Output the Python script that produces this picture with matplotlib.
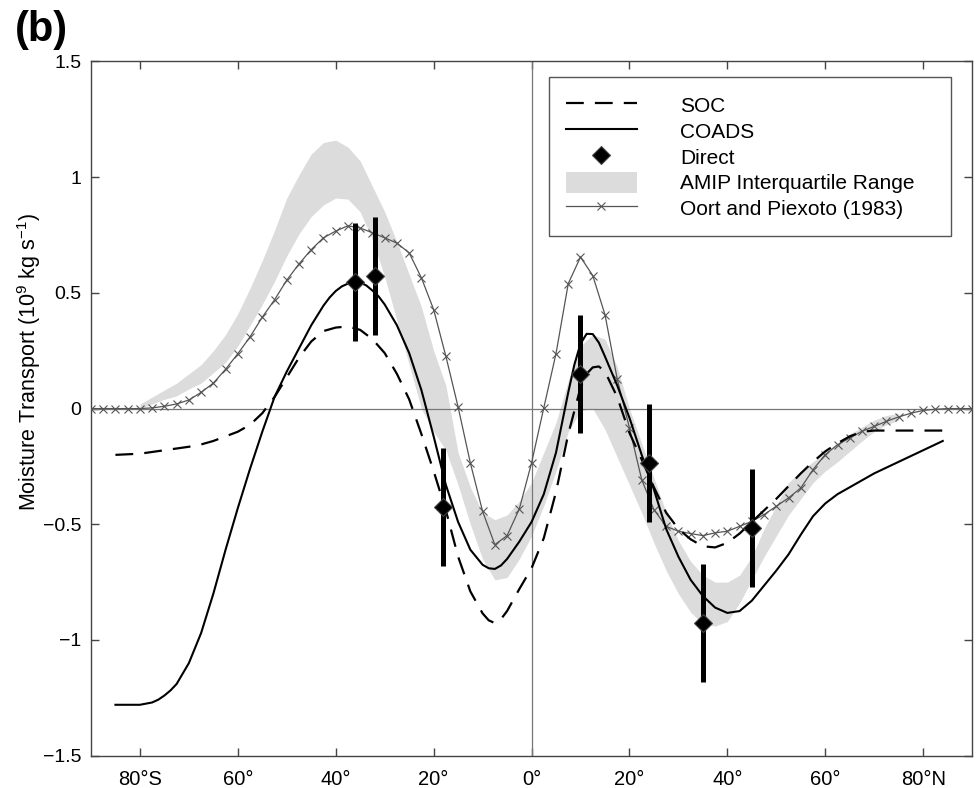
import numpy as np
import matplotlib
matplotlib.use("Agg")
import matplotlib.pyplot as plt
from matplotlib.lines import Line2D
from matplotlib.patches import Patch

plt.rcParams['font.family'] = ['Liberation Sans', 'DejaVu Sans']
plt.rcParams['mathtext.fontset'] = 'custom'
plt.rcParams['mathtext.rm'] = 'Liberation Sans'
plt.rcParams['mathtext.it'] = 'Liberation Sans:italic'

# COADS (solid)
coads_lat = [-85, -80, -77.5, -76.25, -75, -73.75, -72.5, -70, -67.5, -65, -62.5, -60, -57.5, -55, -52.5,
             -50, -47.5, -45, -42.5, -41.25, -40, -38.75, -37.5, -36.25, -35, -33.75, -32.5, -31.25,
             -30, -27.5, -25, -22.5, -20, -17.5, -15, -12.5, -10, -8.75, -7.5, -6.25, -5, -2.5, 0,
             2.5, 5, 7.5, 8.75, 10, 11.25, 12.5, 13.75, 15, 17.5,
             20, 22.5, 25, 27.5, 30, 32.5, 35, 37.5, 40, 42.5, 45, 47.5, 50, 52.5, 55,
             57.5, 60, 62.5, 65, 67.5, 70, 72.5, 75, 77.5, 80, 82.5, 84]
coads_val = [-1.28, -1.28, -1.27, -1.258, -1.24, -1.218, -1.19, -1.10, -0.97, -0.80, -0.61, -0.43, -0.26, -0.10, 0.05,
             0.16, 0.26, 0.36, 0.445, 0.48, 0.508, 0.528, 0.54, 0.547, 0.545, 0.532, 0.51, 0.485,
             0.45, 0.36, 0.24, 0.08, -0.12, -0.33, -0.49, -0.61, -0.675, -0.69, -0.693, -0.678, -0.65, -0.575, -0.49,
             -0.37, -0.19, 0.07, 0.19, 0.28, 0.323, 0.322, 0.285, 0.225, 0.10,
             -0.04, -0.20, -0.35, -0.52, -0.64, -0.74, -0.81, -0.86, -0.883, -0.875, -0.83, -0.765, -0.70, -0.63, -0.545,
             -0.465, -0.41, -0.37, -0.34, -0.31, -0.28, -0.255, -0.23, -0.205, -0.18, -0.155, -0.14]

# SOC (dashed)
soc_lat = [-85, -80, -75, -70, -67.5, -65, -62.5, -60, -57.5, -55, -52.5, -50, -47.5, -45,
           -42.5, -40, -37.5, -35, -32.5, -30, -27.5, -25, -22.5, -20, -17.5, -15, -12.5,
           -10, -8.75, -7.5, -6.25, -5, -2.5, 0, 2.5, 5, 7.5, 10, 11.25, 12.5, 13.75, 15, 17.5, 20,
           22.5, 25, 27.5, 30, 32.5, 35, 37.5, 40, 42.5, 45, 47.5, 50, 52.5, 55, 57.5, 60, 62.5,
           65, 67.5, 70, 75, 80, 84]
soc_val = [-0.20, -0.195, -0.18, -0.165, -0.155, -0.14, -0.12, -0.10, -0.07, -0.02, 0.05, 0.135, 0.22, 0.29,
           0.335, 0.35, 0.355, 0.34, 0.30, 0.24, 0.15, 0.04, -0.11, -0.27, -0.44, -0.64, -0.79,
           -0.885, -0.915, -0.927, -0.91, -0.875, -0.78, -0.69, -0.56, -0.36, -0.11, 0.09, 0.15, 0.178, 0.182, 0.16, 0.05, -0.105,
           -0.22, -0.34, -0.45, -0.52, -0.565, -0.595, -0.60, -0.58, -0.54, -0.49, -0.44, -0.39, -0.335, -0.28, -0.23, -0.185, -0.15,
           -0.12, -0.10, -0.095, -0.095, -0.095, -0.095]

# Oort and Piexoto (1983)
oort_lat = [-90, -87.5, -85, -82.5, -80, -77.5, -75, -72.5, -70, -67.5, -65, -62.5, -60, -57.5,
            -55, -52.5, -50, -47.5, -45, -42.5, -40, -37.5, -35, -32.5, -30, -27.5, -25, -22.5,
            -20, -17.5, -15, -12.5, -10, -7.5, -5, -2.5, 0, 2.5, 5, 7.5, 10, 12.5, 15, 17.5, 20,
            22.5, 25, 27.5, 30, 32.5, 35, 37.5, 40, 42.5, 45, 47.5, 50, 52.5, 55, 57.5, 60, 62.5,
            65, 67.5, 70, 72.5, 75, 77.5, 80, 82.5, 85, 87.5, 90]
oort_val = [0, 0, 0, 0, 0, 0.003, 0.01, 0.02, 0.037, 0.07, 0.11, 0.17, 0.237, 0.31,
            0.395, 0.47, 0.555, 0.625, 0.687, 0.738, 0.767, 0.79, 0.78, 0.76, 0.738, 0.715, 0.673, 0.565,
            0.428, 0.226, 0.007, -0.235, -0.444, -0.588, -0.549, -0.434, -0.235, 0.003, 0.238, 0.54, 0.655, 0.575, 0.406, 0.128, -0.084,
            -0.307, -0.437, -0.509, -0.53, -0.54, -0.549, -0.537, -0.53, -0.509, -0.487, -0.458, -0.422, -0.386, -0.343, -0.264, -0.199, -0.156,
            -0.127, -0.098, -0.077, -0.055, -0.036, -0.02, -0.008, -0.003, 0, 0, 0]

# AMIP interquartile range
amip_lat = [-80, -77.5, -75, -72.5, -70, -67.5, -65, -62.5, -60, -57.5, -55, -52.5, -50, -47.5,
            -45, -42.5, -40, -37.5, -35, -32.5, -30, -27.5, -25, -22.5, -20, -17.5, -15, -12.5,
            -10, -7.5, -5, -2.5, 0, 2.5, 5, 7.5, 10, 12.5, 15, 17.5, 20, 22.5, 25, 27.5, 30, 32.5,
            35, 37.5, 40, 42.5, 45, 47.5, 50, 52.5, 55, 57.5, 60, 62.5, 65, 67.5, 70, 72.5, 75]
amip_hi = [0.02, 0.05, 0.08, 0.11, 0.15, 0.19, 0.25, 0.32, 0.41, 0.52, 0.64, 0.77, 0.91, 1.01,
           1.10, 1.15, 1.16, 1.13, 1.07, 0.96, 0.85, 0.72, 0.58, 0.44, 0.25, 0.10, -0.19, -0.34,
           -0.45, -0.48, -0.46, -0.40, -0.32, -0.19, -0.06, 0.12, 0.27, 0.32, 0.30, 0.18, 0.0, -0.15, -0.30, -0.45, -0.57, -0.66,
           -0.72, -0.75, -0.75, -0.72, -0.64, -0.52, -0.42, -0.32, -0.27, -0.23, -0.19, -0.15, -0.11, -0.08, -0.05, -0.03, -0.02]
amip_lo = [0.0, 0.02, 0.04, 0.055, 0.085, 0.11, 0.155, 0.20, 0.27, 0.36, 0.45, 0.55, 0.66, 0.755,
           0.83, 0.88, 0.91, 0.905, 0.85, 0.73, 0.57, 0.38, 0.19, 0.0, -0.10, -0.18, -0.33, -0.50,
           -0.65, -0.74, -0.73, -0.65, -0.55, -0.42, -0.27, -0.10, -0.01, 0.0, -0.09, -0.21, -0.33, -0.45, -0.58, -0.70, -0.80, -0.88,
           -0.93, -0.94, -0.92, -0.84, -0.74, -0.64, -0.55, -0.46, -0.39, -0.32, -0.27, -0.23, -0.185, -0.14, -0.10, -0.07, -0.05]

# Direct estimates
direct_lat = [-36, -32, -18, 10, 24, 35, 45]
direct_val = [0.545, 0.575, -0.425, 0.15, -0.235, -0.925, -0.515]
direct_err = [0.255, 0.255, 0.255, 0.255, 0.255, 0.255, 0.255]

xticks = [-80, -60, -40, -20, 0, 20, 40, 60, 80]
xlabels = ['80°S', '60°', '40°', '20°', '0°', '20°', '40°', '60°', '80°N']
yticks = [-1.5, -1, -0.5, 0, 0.5, 1, 1.5]
ylabels = ['\u22121.5', '\u22121', '\u22120.5', '0', '0.5', '1', '1.5']

fig = plt.figure(figsize=(9.78, 7.88), dpi=100)
ax = fig.add_axes([0.093, 0.041, 0.901, 0.881])

band_col = '#dcdcdc'
ax.fill_between(amip_lat, amip_lo, amip_hi, color=band_col, lw=0, zorder=1)
ax.axhline(0, color='#777777', lw=0.9, zorder=2)
ax.axvline(0, color='#777777', lw=0.9, zorder=2)

ax.plot(oort_lat, oort_val, color='#555555', lw=0.9, marker='x', ms=6, mew=0.8, zorder=3)
ax.plot(soc_lat, soc_val, color='black', lw=1.6, dashes=(8, 5), zorder=4)
ax.plot(coads_lat, coads_val, color='black', lw=1.5, zorder=4)
ax.errorbar(direct_lat, direct_val, yerr=direct_err, fmt='none', ecolor='black',
            elinewidth=3.6, capsize=0, zorder=5)
ax.plot(direct_lat, direct_val, 'D', ms=9, mfc='black', mec='#444444', mew=0.8, zorder=6)

ax.set_xlim(-90, 90)
ax.set_ylim(-1.5, 1.5)
ax.set_xticks(xticks)
ax.set_xticklabels(xlabels)
ax.set_yticks(yticks)
ax.set_yticklabels(ylabels)
ax.tick_params(direction='in', length=6, width=1, color='#444444', top=True, right=True,
               labelsize=14)
ax.tick_params(axis='x', pad=10, labelsize=14.5)
ax.tick_params(axis='y', pad=7)
for s in ax.spines.values():
    s.set_color('#444444')
    s.set_linewidth(1.0)

ax.set_ylabel('Moisture Transport (10$^{9}$ kg s$^{-1}$)', fontsize=15.5)
ax.yaxis.set_label_coords(-0.054, 0.567)

handles = [
    Line2D([], [], color='black', lw=1.6, dashes=(8, 5)),
    Line2D([], [], color='black', lw=1.5),
    Line2D([], [], ls='none', marker='D', ms=9, mfc='black', mec='#444444', mew=0.8),
    Patch(facecolor=band_col, edgecolor='none'),
    Line2D([], [], color='#555555', lw=0.9, marker='x', ms=6, mew=0.8),
]
labels = ['SOC', 'COADS', 'Direct', 'AMIP Interquartile Range', 'Oort and Piexoto (1983)']
# frame spans the box seen in the reference
leg = ax.legend(handles, labels, loc='upper left', bbox_to_anchor=(0.52, 0.755, 0.456, 0.222),
                mode='expand', borderaxespad=0, fontsize=15, handlelength=3.4, handleheight=1.2,
                handletextpad=2.1, labelspacing=0.2, borderpad=0.8, fancybox=False,
                framealpha=1, edgecolor='#555555')
leg.get_frame().set_linewidth(1.0)

fig.text(0.015, 0.987, '(b)', fontsize=30, fontweight='bold', va='top', ha='left')

fig.savefig('out.png', dpi=100)
